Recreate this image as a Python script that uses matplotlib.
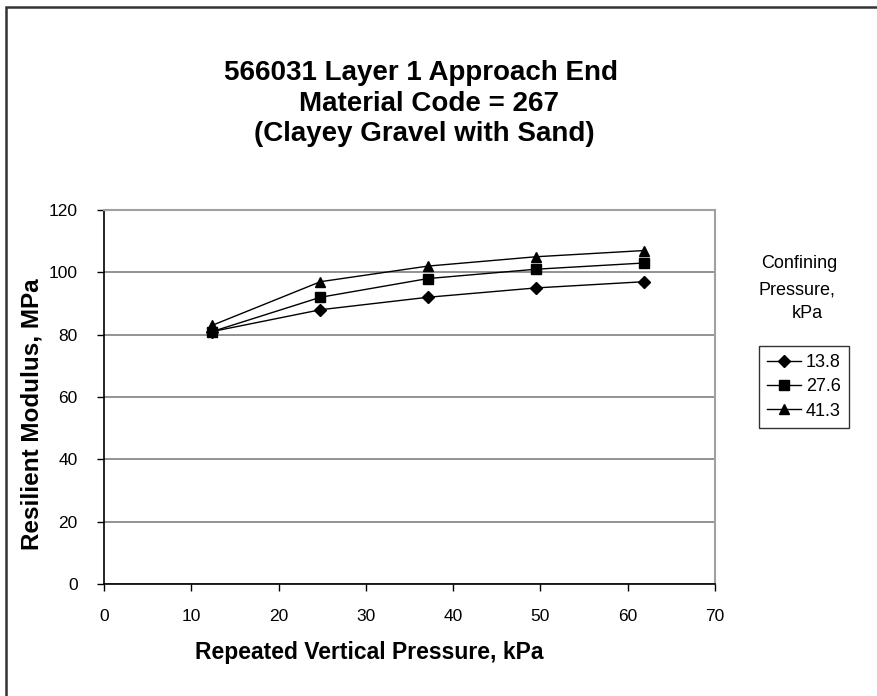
import matplotlib.pyplot as plt
from matplotlib.patches import Rectangle

plt.rcParams['font.family'] = ['Liberation Sans', 'DejaVu Sans']

# data
x_13 = [12.4, 24.8, 37.1, 49.5, 61.9]
y_13 = [81, 88, 92, 95, 97]
x_27 = [12.4, 24.8, 37.1, 49.5, 61.9]
y_27 = [81, 92, 98, 101, 103]
x_41 = [12.4, 24.8, 37.1, 49.5, 61.9]
y_41 = [83, 97, 102, 105, 107]
labels = ["13.8", "27.6", "41.3"]

W, H = 877, 696
fig = plt.figure(figsize=(W / 100, H / 100), dpi=100)

# outer chart frame (right / bottom edges fall outside the image)
fig.patches.append(Rectangle((6 / W, -0.05), 1.2, 1 - 7 / H + 0.05,
                             transform=fig.transFigure, fill=False,
                             edgecolor='#333333', linewidth=1.8))

ax = fig.add_axes([104 / W, 1 - 584 / H, (715 - 104) / W, (584 - 210) / H])

ax.plot(x_13, y_13, color='black', lw=1, marker='D', ms=6, label=labels[0])
ax.plot(x_27, y_27, color='black', lw=1, marker='s', ms=7, label=labels[1])
ax.plot(x_41, y_41, color='black', lw=1, marker='^', ms=7.5, label=labels[2])

ax.set_xlim(0, 70)
ax.set_ylim(0, 120)
ax.set_xticks(range(0, 71, 10))
ax.set_yticks(range(0, 121, 20))
ax.yaxis.grid(True, color='#808080', lw=1.2)
ax.set_axisbelow(True)
ax.tick_params(direction='out', length=5, width=1, labelsize=12.5, pad=13)
ax.tick_params(axis='y', pad=14)

for s in ('top', 'right'):
    ax.spines[s].set_color('#a0a0a0')
    ax.spines[s].set_linewidth(1.5)
for s in ('left', 'bottom'):
    ax.spines[s].set_color('black')
    ax.spines[s].set_linewidth(1.2)

# titles and axis labels
fig.text(421 / W, 1 - 73 / H, "566031 Layer 1 Approach End", ha='center', va='center',
         fontsize=20, fontweight='bold')
fig.text(429 / W, 1 - 104 / H, "Material Code = 267", ha='center', va='center',
         fontsize=20, fontweight='bold')
fig.text(424 / W, 1 - 134 / H, "(Clayey Gravel with Sand)", ha='center', va='center',
         fontsize=20, fontweight='bold')
fig.text(369 / W, 1 - 652 / H, "Repeated Vertical Pressure, kPa", ha='center', va='center',
         fontsize=16.5, fontweight='bold')
fig.text(32 / W, 1 - 414 / H, "Resilient Modulus, MPa", ha='center', va='center',
         fontsize=17.5, fontweight='bold', rotation=90)

# legend title
fig.text(799 / W, 1 - 263 / H, "Confining", ha='center', va='center', fontsize=13)
fig.text(797 / W, 1 - 290 / H, "Pressure,", ha='center', va='center', fontsize=13)
fig.text(807 / W, 1 - 314 / H, "kPa", ha='center', va='center', fontsize=13)

leg = fig.legend(loc='upper left', bbox_to_anchor=(759 / W, 1 - 346 / H),
                 frameon=True, fancybox=False, edgecolor='black', fontsize=13,
                 handlelength=1.85, handletextpad=0.3, borderpad=0.45,
                 labelspacing=0.4, borderaxespad=0)
leg.get_frame().set_linewidth(1)

fig.savefig("out.png", dpi=100)
